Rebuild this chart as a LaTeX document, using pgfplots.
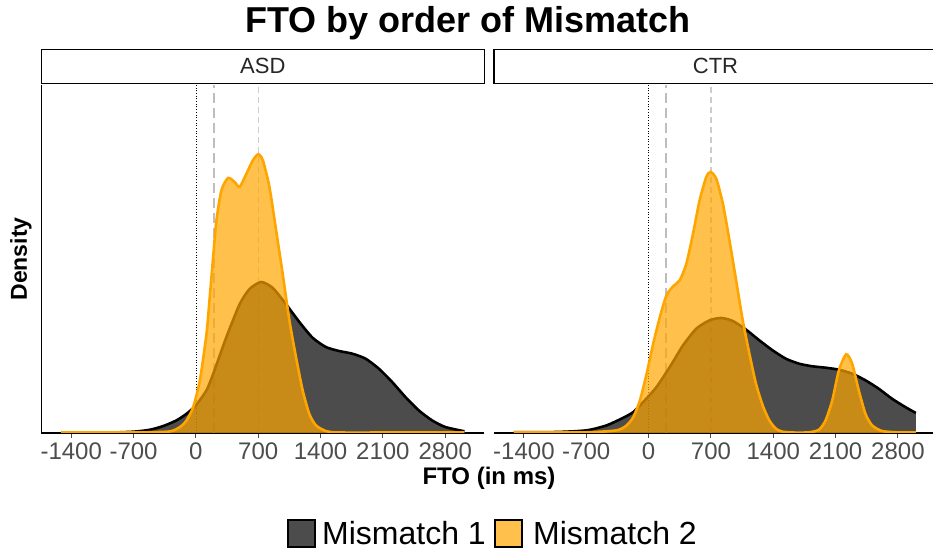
\documentclass[border=0pt]{standalone}
\usepackage{pgfplots}
\pgfplotsset{compat=1.18}
\usepackage{pgfplotstable}
\usepackage{fontspec}
\setmainfont{Liberation Sans}
\definecolor{orng}{HTML}{FFA500}
\definecolor{vgray}{HTML}{BEBEBE}
\definecolor{lgray}{HTML}{CCCCCC}
\definecolor{tickgray}{HTML}{4D4D4D}

% ASD, Mismatch 1
\pgfplotstableread{
x y
-1512 0.7
-998 0.4
-700 1.3
-514 3.3
-365 7
-216 12.7
-104 19.3
0 27.7
119 42.7
194 59
343 96
491 128.7
603 144
733 151
864 145
1013 128.7
1162 111
1310 95.3
1459 86
1608 82
1757 79.3
1906 74.3
2055 64.3
2204 51
2353 36
2502 22.7
2651 12.7
2800 6
3016 1.7
}\asdA
% ASD, Mismatch 2
\pgfplotstableread{
x y
-1512 0.5
-700 0.5
-300 1.5
-179 6
-104 12.7
-30 26
45 52.7
119 99
156 136
194 176
231 212.7
287 242.7
361 255
435 251
491 246
566 259
640 272.7
700 278.7
752 272.7
826 246
901 202.7
975 159
1050 112.7
1124 76
1199 42.7
1273 19.3
1348 7.7
1459 2
1600 0.5
2300 0.5
3016 0.5
}\asdB
% CTR, Mismatch 1
\pgfplotstableread{
x y
-1512 0.7
-1028 1
-692 2.7
-469 7.7
-283 15.3
-171 21
-60 31
89 46
238 66
387 87.7
536 104.3
685 112.7
815 115
946 112
1095 103.3
1243 92.7
1392 82.7
1541 74.3
1690 69.3
1839 66.7
1988 65.3
2137 63.3
2286 59.3
2435 52.7
2584 44.3
2733 34.3
2882 26
3001 20
}\ctrA
% CTR, Mismatch 2
\pgfplotstableread{
x y
-1512 0.5
-700 0.7
-357 2.7
-246 7.7
-171 16
-97 32.7
-22 59.3
52 89.3
127 116
201 137.7
276 146.7
350 152.7
424 169.3
499 199.3
573 232.7
648 256
696 261
760 254.3
834 229.3
908 192.7
983 152.7
1057 112.7
1132 79.3
1206 49.3
1281 27.7
1355 12.7
1430 4.3
1504 1.3
1653 0.4
1802 0.7
1914 3.3
1988 12.7
2063 32.7
2137 62.7
2219 78.7
2286 69.3
2360 42.7
2435 19.3
2509 7.7
2621 2
2800 0.6
3001 0.5
}\ctrB

\pgfplotsset{
  panel/.style={
    scale only axis, width=443bp, height=348bp,
    xmin=-1736, xmax=3239, ymin=0, ymax=348,
    ytick=\empty,
    xtick={-1400,-700,0,700,1400,2100,2800},
    xticklabels={-1400,-700,0,700,1400,2100,2800},
    xticklabel style={font=\fontsize{24bp}{27bp}\selectfont, text=tickgray, yshift=-1bp},
    tick align=outside, major tick length=5bp,
    xtick style={draw=tickgray, line width=1bp},
    axis line style={line width=1.3bp, black},
    clip=true,
  },
  vl0/.style={black, line width=0.7bp, dotted, forget plot},
  vl1/.style={vgray, line width=2bp, dash pattern=on 10bp off 5bp, forget plot},
  vl2/.style={lgray, line width=1.2bp, dash pattern=on 6bp off 4bp, forget plot},
  fillA/.style={draw=none, fill=black, fill opacity=0.7, smooth, tension=0.4},
  lineA/.style={black, line width=2.6bp, smooth, tension=0.4},
  fillB/.style={draw=none, fill=orng, fill opacity=0.7, smooth, tension=0.4},
  lineB/.style={orng, line width=2.6bp, smooth, tension=0.4},
}

\begin{document}
\begin{tikzpicture}[x=1bp,y=1bp]
\useasboundingbox (0,0) rectangle (933,550);

% title
\node[font=\bfseries\fontsize{36bp}{40bp}\selectfont] at (468,527) {FTO by order of Mismatch};

% strips
\draw[line width=1.5bp, fill=white] (41.3,466.7) rectangle (484.3,500.7);
\draw[line width=1.5bp, fill=white] (494,466.7) rectangle (940,500.7);
\node[font=\fontsize{22bp}{26bp}\selectfont, text=black!85] at (262.8,483.7) {ASD};
\node[font=\fontsize{22bp}{26bp}\selectfont, text=black!85] at (715.5,483.7) {CTR};

% left panel
\begin{axis}[panel, at={(41.3bp,117bp)}, anchor=south west,
  axis x line*=bottom, axis y line*=left]
\addplot[vl0] coordinates {(0,0) (0,348)};
\addplot[vl1] coordinates {(200,0) (200,348)};
\addplot[vl2] coordinates {(700,0) (700,348)};
\addplot[fillA] table {\asdA} \closedcycle;
\addplot[lineA] table {\asdA};
\addplot[fillB] table {\asdB} \closedcycle;
\addplot[lineB] table {\asdB};
\end{axis}

% right panel
\begin{axis}[panel, at={(494bp,117bp)}, anchor=south west,
  axis x line*=bottom, axis y line=none]
\addplot[vl0] coordinates {(0,0) (0,348)};
\addplot[vl1] coordinates {(200,0) (200,348)};
\addplot[vl2] coordinates {(700,0) (700,348)};
\addplot[fillA] table {\ctrA} \closedcycle;
\addplot[lineA] table {\ctrA};
\addplot[fillB] table {\ctrB} \closedcycle;
\addplot[lineB] table {\ctrB};
\end{axis}

% axis titles
\node[font=\bfseries\fontsize{24bp}{28bp}\selectfont] at (489,72) {FTO (in ms)};
\node[font=\bfseries\fontsize{23bp}{27bp}\selectfont, rotate=90] at (21,291) {Density};

% legend
\draw[line width=2.2bp, fill=black, fill opacity=0.7, draw opacity=1] (288,3) rectangle (315,30);
\node[anchor=west, font=\fontsize{32bp}{36bp}\selectfont, inner sep=0pt] at (322,16.5) {Mismatch 1};
\draw[line width=2.2bp, fill=orng, fill opacity=0.7, draw opacity=1] (495,3) rectangle (522,30);
\node[anchor=west, font=\fontsize{32bp}{36bp}\selectfont, inner sep=0pt] at (533,16.5) {Mismatch 2};
\end{tikzpicture}
\end{document}
